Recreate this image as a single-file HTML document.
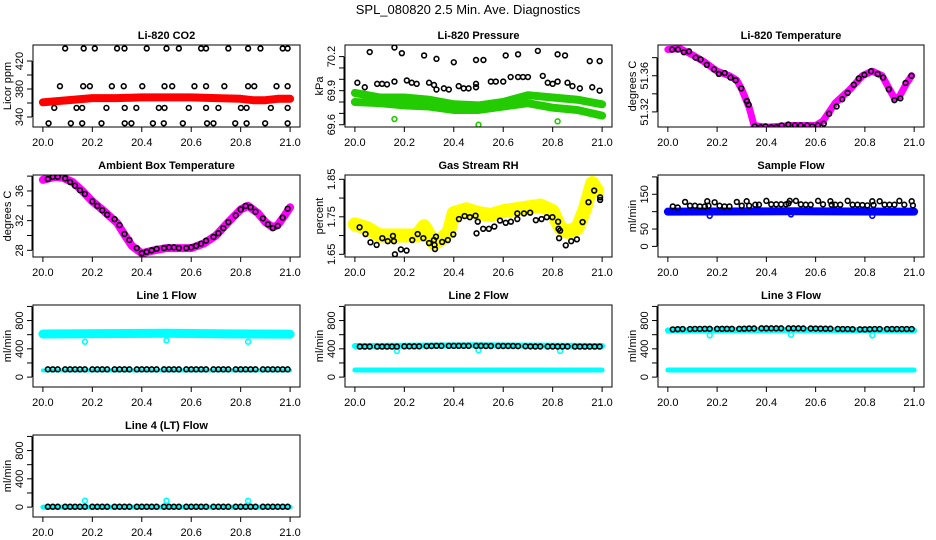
<!DOCTYPE html>
<html><head><meta charset="utf-8"><style>
html,body{margin:0;padding:0;background:#fff;}
svg{display:block;font-family:"Liberation Sans",sans-serif;}
</style></head><body>
<svg id="chart" width="936" height="540" viewBox="0 0 936 540" xmlns="http://www.w3.org/2000/svg">
<text x="468" y="14" text-anchor="middle" font-size="13">SPL_080820  2.5 Min. Ave. Diagnostics</text>
</svg>
<script>
// ---------- data ----------
const xTicks = [20.0, 20.2, 20.4, 20.6, 20.8, 21.0];
const xTickLabels = ["20.0", "20.2", "20.4", "20.6", "20.8", "21.0"];

// CO2
const co2BandX = [20.0, 20.1, 20.2, 20.3, 20.4, 20.5, 20.6, 20.7, 20.8, 20.85, 20.9, 20.95, 21.0];
const co2BandY = [361, 364, 367, 367, 368, 368, 368, 367, 366, 364, 364, 366, 366];
const co2PtsX = [20.09,20.165,20.21,20.30,20.33,20.42,20.50,20.55,20.64,20.66,20.75,20.83,20.88,20.97,20.99,
  20.069,20.163,20.19,20.279,20.327,20.402,20.492,20.523,20.613,20.66,20.734,20.83,20.855,20.945,20.99,
  20.046,20.136,20.159,20.257,20.331,20.378,20.469,20.492,20.59,20.66,20.71,20.801,20.824,20.922,20.99,
  20.023,20.113,20.159,20.237,20.331,20.358,20.445,20.489,20.566,20.664,20.69,20.778,20.824,20.899,20.99];
const co2PtsY = [438,438,438,438,438,438,438,438,438,438,438,438,438,438,438,
  384,384,384,384,384,384,384,384,384,384,384,384,384,384,384,
  353,353,353,353,353,353,353,353,353,353,353,353,353,353,353,
  331,331,331,331,331,331,331,331,331,331,331,331,331,331,331];

// Pressure
const presBandX = [20.0, 20.1, 20.2, 20.3, 20.4, 20.5, 20.6, 20.7, 20.8, 20.9, 21.0];
const presBand1Y = [69.88, 69.84, 69.84, 69.82, 69.78, 69.77, 69.80, 69.86, 69.84, 69.82, 69.78];
const presBand2Y = [69.80, 69.79, 69.77, 69.76, 69.73, 69.73, 69.76, 69.79, 69.75, 69.73, 69.68];
const presPtsX = [20.06,20.16,20.19,20.28,20.33,20.40,20.49,20.52,20.61,20.66,20.74,20.82,20.85,20.95,20.99,
  20.01,20.04,20.09,20.11,20.13,20.16,20.21,20.23,20.25,20.30,20.32,20.33,20.36,20.38,20.42,20.44,20.46,20.49,20.49,20.55,20.57,20.60,20.63,20.66,20.68,20.70,20.76,20.78,20.80,20.82,20.86,20.88,20.91,20.96,20.99];
const presPtsY = [70.24,70.28,70.23,70.21,70.18,70.15,70.17,70.17,70.21,70.22,70.25,70.22,70.21,70.16,70.16,
  69.97,69.93,69.96,69.96,69.955,69.98,69.99,69.97,69.96,69.97,69.95,69.91,69.92,69.91,69.94,69.92,69.92,69.93,69.96,69.98,69.98,69.98,70.02,70.02,70.02,70.02,70.03,69.97,69.96,69.98,69.97,69.94,69.92,69.93,69.90];
const presOutX = [20.16, 20.50, 20.82];
const presOutY = [69.65, 69.60, 69.63];

// Li-820 temperature
const ltBandX = [20.0,20.05,20.1,20.15,20.2,20.25,20.28,20.3,20.33,20.35,20.4,20.5,20.6,20.63,20.68,20.74,20.79,20.83,20.87,20.9,20.92,20.94,20.97,20.99];
const ltBandY = [51.389,51.390,51.383,51.375,51.365,51.360,51.355,51.345,51.325,51.305,51.303,51.305,51.305,51.310,51.330,51.345,51.360,51.365,51.360,51.345,51.335,51.337,51.352,51.360];
const ltPtsX = [20.017,20.041,20.065,20.086,20.113,20.133,20.158,20.187,20.207,20.231,20.254,20.275,20.298,20.321,20.328,20.353,20.377,20.397,20.42,20.441,20.462,20.489,20.516,20.539,20.566,20.586,20.609,20.633,20.655,20.685,20.708,20.73,20.755,20.775,20.798,20.825,20.852,20.874,20.897,20.92,20.944,20.965,20.989];
const ltPtsY = [51.389,51.389,51.386,51.387,51.380,51.378,51.372,51.367,51.362,51.363,51.358,51.355,51.346,51.332,51.328,51.304,51.303,51.304,51.303,51.303,51.305,51.306,51.305,51.305,51.305,51.304,51.305,51.307,51.318,51.326,51.334,51.341,51.350,51.357,51.361,51.365,51.362,51.358,51.345,51.333,51.335,51.352,51.360];

// Ambient box temperature
const abBandX = [20.0,20.05,20.08,20.12,20.16,20.2,20.25,20.3,20.33,20.36,20.4,20.45,20.5,20.55,20.6,20.65,20.7,20.75,20.8,20.83,20.87,20.9,20.93,20.95,20.98,21.0];
const abBandY = [37.5,37.9,37.8,37.2,36.0,34.6,33.2,31.7,30.1,28.6,27.6,28.0,28.3,28.3,28.3,28.9,30.0,31.8,33.5,34.0,33.0,31.8,31.1,31.4,32.8,33.8];
const lineX = [20.02,20.04,20.06,20.09,20.11,20.13,20.15,20.17,20.2,20.22,20.24,20.26,20.29,20.31,20.33,20.35,20.38,20.4,20.42,20.44,20.46,20.49,20.51,20.53,20.55,20.58,20.6,20.62,20.64,20.66,20.69,20.71,20.73,20.75,20.78,20.8,20.82,20.84,20.86,20.89,20.91,20.93,20.95,20.97,20.99];
const abPtsY = [37.6,37.9,37.9,37.7,37.2,36.7,36.1,35.6,34.6,34.0,33.4,32.8,32.2,31.4,30.2,29.4,28.3,27.6,27.8,28.0,28.2,28.3,28.4,28.4,28.3,28.3,28.4,28.6,28.9,29.3,29.8,30.3,31.0,31.8,32.7,33.5,34.0,33.8,33.2,32.3,31.5,31.0,31.3,32.4,33.6];

// Gas stream RH
const rhBandX = [20.0,20.05,20.1,20.15,20.2,20.25,20.28,20.32,20.35,20.38,20.4,20.45,20.5,20.55,20.6,20.65,20.7,20.75,20.8,20.83,20.86,20.9,20.93,20.96,20.98];
const rhBandY = [1.73,1.72,1.70,1.70,1.70,1.70,1.725,1.68,1.69,1.71,1.76,1.77,1.76,1.755,1.765,1.77,1.775,1.78,1.765,1.72,1.71,1.72,1.77,1.84,1.82];
const rhPtsX = [20.019,20.043,20.063,20.088,20.111,20.133,20.154,20.158,20.162,20.186,20.209,20.232,20.254,20.277,20.3,20.32,20.322,20.324,20.328,20.353,20.376,20.398,20.421,20.444,20.465,20.488,20.492,20.497,20.519,20.542,20.564,20.587,20.61,20.631,20.657,20.657,20.684,20.709,20.732,20.755,20.776,20.799,20.822,20.824,20.83,20.826,20.853,20.875,20.898,20.921,20.945,20.968,20.992,20.992];
const rhPtsY = [1.722,1.704,1.682,1.675,1.693,1.685,1.699,1.685,1.650,1.663,1.660,1.688,1.704,1.693,1.680,1.688,1.675,1.664,1.697,1.683,1.688,1.703,1.744,1.752,1.749,1.753,1.706,1.737,1.718,1.718,1.724,1.740,1.734,1.737,1.759,1.744,1.759,1.761,1.741,1.744,1.749,1.749,1.737,1.718,1.713,1.693,1.674,1.685,1.690,1.736,1.789,1.820,1.802,1.795];

// Sample flow
const sfBandX = [20.0, 20.5, 21.0];
const sfBandY = [100, 101, 100];
const sfPtsX = [20.02,20.04,20.07,20.09,20.11,20.13,20.15,20.16,20.165,20.19,20.21,20.23,20.25,20.28,20.30,20.32,20.33,20.355,20.37,20.40,20.42,20.44,20.46,20.48,20.49,20.495,20.52,20.54,20.56,20.58,20.61,20.63,20.66,20.665,20.68,20.70,20.73,20.75,20.77,20.79,20.81,20.83,20.835,20.86,20.88,20.90,20.92,20.94,20.96,20.99,20.995];
const sfPtsY = [115,112,128,117,117,115,115,130,117,127,117,115,115,128,117,130,117,120,120,131,121,121,121,121,124,131,131,121,120,120,131,121,130,120,120,120,131,120,120,119,118,130,119,130,120,120,120,131,120,130,118];
const flowOutX = [20.17, 20.50, 20.83];
const sfOutY = [88, 92, 88];

// Line flows
const lfBandX = [20.0, 20.25, 20.5, 20.75, 21.0];
const l1HighY = [610, 615, 620, 612, 608];
const l1LowY = [95, 95, 96, 95, 95];
const l1PtsY = [110,110,110,110,110,110,110,110,110,110,110,110,110,110,110,110,110,110,110,110,110,110,110,110,110,110,110,110,110,110,110,110,110,110,110,110,110,110,110,110,110,110,110,110,110];
const l1OutY = [500, 520, 500];
const l2HighY = [440, 445, 450, 445, 440];
const l2LowY = [100, 100, 100, 100, 100];
const l2PtsY = [432,432,432,432,432,432,432,432,435,435,435,435,438,440,442,442,442,442,442,442,442,442,442,440,440,440,440,440,440,438,436,434,433,433,433,433,433,433,433,432,432,432,432,432,432];
const l2OutY = [370, 380, 370];
const l3HighY = [660, 665, 668, 665, 660];
const l3LowY = [100, 100, 100, 100, 100];
const l3PtsY = [675,678,680,680,682,682,683,683,683,683,683,683,683,685,688,688,690,690,690,690,690,690,690,690,688,688,687,686,685,684,682,680,680,678,676,676,678,680,680,680,680,680,680,680,680];
const l3OutY = [590, 600, 590];
const l4BandY = [0, 0, 0, 0, 0];
const l4PtsY = [5,5,5,5,5,5,5,5,5,5,5,5,5,5,5,5,5,5,5,5,5,5,5,5,5,5,5,5,5,5,5,5,5,5,5,5,5,5,5,5,5,5,5,5,5];
const l4OutY = [90, 90, 90];

// ---------- drawing ----------
const svg = document.getElementById('chart');
const NS = 'http://www.w3.org/2000/svg';
function mk(tag, attrs, parent) {
  const e = document.createElementNS(NS, tag);
  for (const k in attrs) e.setAttribute(k, attrs[k]);
  (parent || svg).appendChild(e);
  return e;
}
const XL = [19.96, 21.04];
const cols = [[33, 300], [345, 612], [658, 924]];
const rows = [[45, 127], [175, 257], [305, 387], [435, 517]];

function panel(name, col, row, title, ylab, ylim, yticks, ylabels) {
  const [l, r] = cols[col], [t, b] = rows[row];
  const g = mk('g', {});
  
  
  const sx = v => l + (v - XL[0]) / (XL[1] - XL[0]) * (r - l);
  const sy = v => b - (v - ylim[0]) / (ylim[1] - ylim[0]) * (b - t);
  const tt = mk('text', {x: (l + r) / 2, y: t - 6, 'text-anchor': 'middle', 'font-size': 11, 'font-weight': 'bold'}, g);
  tt.textContent = title;
  
  
  const clip = mk('clipPath', {id: 'c-' + name}, g);
  mk('rect', {x: l, y: t, width: r - l, height: b - t}, clip);
  const plot = mk('g', {'clip-path': 'url(#c-' + name + ')'}, g);
  // x axis
  const xa = mk('g', {}, g);
  
  
  mk('line', {x1: sx(xTicks[0]), x2: sx(xTicks[xTicks.length - 1]), y1: b, y2: b, stroke: '#000'}, xa);
  xTicks.forEach((v, i) => {
    mk('line', {x1: sx(v), x2: sx(v), y1: b, y2: b + 5, stroke: '#000'}, xa);
    const tx = mk('text', {x: sx(v), y: b + 19, 'text-anchor': 'middle', 'font-size': 11}, xa);
    tx.textContent = xTickLabels[i];
  });
  // y axis
  const ya = mk('g', {}, g);
  
  
  mk('line', {x1: l - 1, x2: l - 1, y1: sy(yticks[0]), y2: sy(yticks[yticks.length - 1]), stroke: '#000'}, ya);
  yticks.forEach((v, i) => {
    mk('line', {x1: l - 6, x2: l - 1, y1: sy(v), y2: sy(v), stroke: '#000'}, ya);
    if (ylabels[i]) {
      const ty = mk('text', {x: 0, y: 0, 'text-anchor': 'middle', 'font-size': 11, transform: `translate(${l - 10},${sy(v)}) rotate(-90)`}, ya);
      ty.textContent = ylabels[i];
    }
  });
  const yl = mk('text', {x: 0, y: 0, 'text-anchor': 'middle', 'font-size': 11, transform: `translate(${l - 22},${(t + b) / 2}) rotate(-90)`}, g);
  yl.textContent = ylab;
  
  
  mk('rect', {x: l, y: t, width: r - l, height: b - t, fill: 'none', stroke: '#000'}, g);
  return {
    band(xs, ys, color, w, nm) {
      const p = mk('polyline', {points: xs.map((x, i) => sx(x) + ',' + sy(ys[i])).join(' '), fill: 'none', stroke: color, 'stroke-width': w, 'stroke-linejoin': 'round', 'stroke-linecap': 'round'}, plot);
      
      
    },
    pts(xs, ys, color, nm) {
      const pg = mk('g', {}, plot);
      
      
      xs.forEach((x, i) => mk('circle', {cx: sx(x), cy: sy(ys[i]), r: 2.4, fill: 'none', stroke: color, 'stroke-width': 1.6}, pg));
    }
  };
}

let p;
p = panel('co2', 0, 0, 'Li-820 CO2', 'Licor ppm', [325.7, 442.9], [340, 360, 380, 400, 420], ['340', '', '380', '', '420']);
p.band(co2BandX, co2BandY, '#ff0000', 8, 'co2-band');
p.pts(co2PtsX, co2PtsY, '#000', 'co2-points');

p = panel('pressure', 1, 0, 'Li-820 Pressure', 'kPa', [69.58, 70.302], [69.6, 69.7, 69.8, 69.9, 70.0, 70.1, 70.2], ['69.6', '', '', '69.9', '', '', '70.2']);
p.band(presBandX, presBand1Y, '#22cc00', 8, 'pressure-band-upper');
p.band(presBandX, presBand2Y, '#22cc00', 8, 'pressure-band-lower');
p.pts(presOutX, presOutY, '#22cc00', 'pressure-outliers');
p.pts(presPtsX, presPtsY, '#000', 'pressure-points');

p = panel('li820-temp', 2, 0, 'Li-820 Temperature', 'degrees C', [51.3033, 51.394], [51.32, 51.34, 51.36, 51.38], ['51.32', '', '51.36', '']);
p.band(ltBandX, ltBandY, '#ff00ff', 7, 'temp-band');
p.pts(ltPtsX, ltPtsY, '#000', 'temp-points');

p = panel('ambient-temp', 0, 1, 'Ambient Box Temperature', 'degrees C', [27.1, 38.15], [28, 30, 32, 34, 36, 38], ['28', '', '32', '', '36', '']);
p.band(abBandX, abBandY, '#ff00ff', 8, 'ambient-band');
p.pts(lineX, abPtsY, '#000', 'ambient-points');

p = panel('gas-rh', 1, 1, 'Gas Stream RH', 'percent', [1.6428, 1.8615], [1.65, 1.70, 1.75, 1.80, 1.85], ['1.65', '', '1.75', '', '1.85']);
p.band(rhBandX, rhBandY, '#ffff00', 14, 'rh-band');
p.pts(rhPtsX, rhPtsY, '#000', 'rh-points');

p = panel('sample-flow', 2, 1, 'Sample Flow', 'ml/min', [-30.5, 205.5], [0, 50, 100, 150, 200], ['0', '50', '', '150', '']);
p.band(sfBandX, sfBandY, '#0000ff', 8, 'sample-band');
p.pts(flowOutX, sfOutY, '#0000ff', 'sample-outliers');
p.pts(sfPtsX, sfPtsY, '#000', 'sample-points');

const fl = [-140, 1020], ft = [0, 200, 400, 600, 800, 1000], fll = ['0', '', '400', '', '800', ''];
p = panel('line1-flow', 0, 2, 'Line 1 Flow', 'ml/min', fl, ft, fll);
p.band(lfBandX, l1HighY, '#00ffff', 9, 'line1-band-high');
p.band(lfBandX, l1LowY, '#00ffff', 4, 'line1-band-low');
p.pts(flowOutX, l1OutY, '#00ffff', 'line1-outliers');
p.pts(lineX, l1PtsY, '#000', 'line1-points');

p = panel('line2-flow', 1, 2, 'Line 2 Flow', 'ml/min', fl, ft, fll);
p.band(lfBandX, l2HighY, '#00ffff', 6, 'line2-band-high');
p.band(lfBandX, l2LowY, '#00ffff', 5, 'line2-band-low');
p.pts(flowOutX, l2OutY, '#00ffff', 'line2-outliers');
p.pts(lineX, l2PtsY, '#000', 'line2-points');

p = panel('line3-flow', 2, 2, 'Line 3 Flow', 'ml/min', fl, ft, fll);
p.band(lfBandX, l3HighY, '#00ffff', 6, 'line3-band-high');
p.band(lfBandX, l3LowY, '#00ffff', 5, 'line3-band-low');
p.pts(flowOutX, l3OutY, '#00ffff', 'line3-outliers');
p.pts(lineX, l3PtsY, '#000', 'line3-points');

p = panel('line4-flow', 0, 3, 'Line 4 (LT) Flow', 'ml/min', fl, ft, fll);
p.band(lfBandX, l4BandY, '#00ffff', 5, 'line4-band');
p.pts(flowOutX, l4OutY, '#00ffff', 'line4-outliers');
p.pts(lineX, l4PtsY, '#000', 'line4-points');
</script>
</body></html>
